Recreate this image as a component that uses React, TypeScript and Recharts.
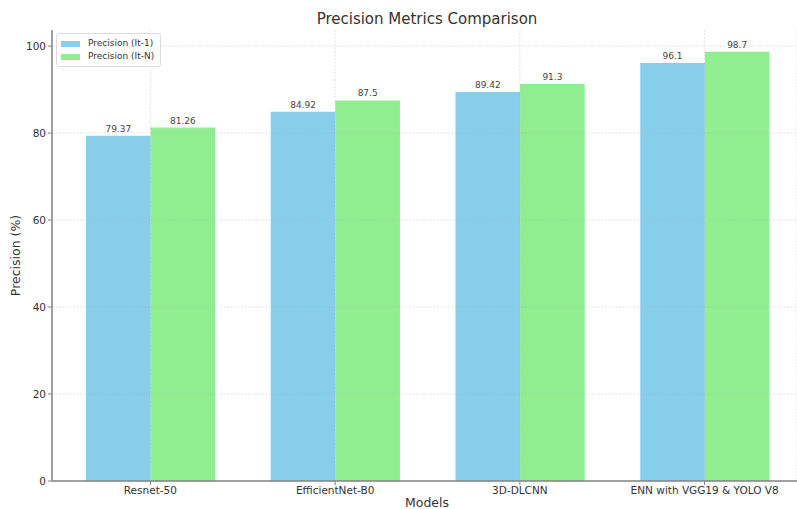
import React from "react";
import {
  BarChart, Bar, XAxis, YAxis, CartesianGrid, LabelList,
} from "recharts";

const models = ["Resnet-50", "EfficientNet-B0", "3D-DLCNN", "ENN with VGG19 & YOLO V8"];
const precisionIt1 = [79.37, 84.92, 89.42, 96.1];
const precisionItN = [81.26, 87.5, 91.3, 98.7];
const yTicks = [0, 20, 40, 60, 80, 100];

const data = models.map((model, i) => ({
  model,
  it1: precisionIt1[i],
  itN: precisionItN[i],
}));

const FONT = "DejaVu Sans, Verdana, sans-serif";
const TEXT = "#333";
const SPINE = "#7f7f7f";

const SERIES = [
  { key: "it1", name: "Precision (It-1)", color: "#87CEEB" },
  { key: "itN", name: "Precision (It-N)", color: "#90EE90" },
];

// legend drawn as an overlay so it doesn't shrink the plot area
function LegendBox() {
  return (
    <div
      style={{
        position: "absolute", left: 56, top: 33,
        background: "rgba(255,255,255,0.85)",
        border: "1px solid #dcdcdc",
        borderRadius: 3,
        padding: "3px 6px 3px 4px",
        fontFamily: FONT,
        fontSize: 9,
        color: TEXT,
        lineHeight: "13px",
      }}
    >
      {SERIES.map((s) => (
        <div key={s.key} style={{ display: "flex", alignItems: "center" }}>
          <span style={{ display: "inline-block", width: 19, height: 6, background: s.color, marginRight: 8 }} />
          {s.name}
        </div>
      ))}
    </div>
  );
}

export default function App() {
  return (
    <div style={{ position: "absolute", left: 0, top: 0, width: 797, height: 509, background: "#fff", fontFamily: FONT }}>
      <div
        style={{
          position: "absolute", left: 0, width: 854, top: 9, textAlign: "center",
          fontSize: 15, color: TEXT, lineHeight: "20px",
        }}
      >
        Precision Metrics Comparison
      </div>
      <BarChart
        width={797}
        height={509}
        data={data}
        margin={{ top: 30, right: 0, bottom: 0, left: 0 }}
        barGap={0}
        barSize={64.6}
      >
        <XAxis
          dataKey="model"
          height={28}
          padding={{ left: 6, right: 0 }}
          tick={{ fontSize: 10.5, fill: TEXT, fontFamily: FONT }}
          tickLine={{ stroke: SPINE }}
          tickSize={4}
          axisLine={{ stroke: SPINE, strokeWidth: 1.5 }}
          interval={0}
          label={({ viewBox }: any) => (
            <text x={427} y={viewBox.y + 26} textAnchor="middle" fontSize={12.5} fill={TEXT} fontFamily={FONT}>
              Models
            </text>
          )}
        />
        <YAxis
          width={52}
          domain={[0, 103.7]}
          ticks={yTicks}
          tick={{ fontSize: 10.5, fill: TEXT, fontFamily: FONT }}
          tickLine={{ stroke: SPINE }}
          tickSize={4}
          axisLine={{ stroke: SPINE, strokeWidth: 1.5 }}
          label={({ viewBox }: any) => {
            const cy = viewBox.y + viewBox.height / 2;
            return (
              <text x={20} y={cy} transform={`rotate(-90 20 ${cy})`} textAnchor="middle" fontSize={12.5} fill={TEXT} fontFamily={FONT}>
                Precision (%)
              </text>
            );
          }}
        />
        {SERIES.map((s) => (
          <Bar key={s.key} dataKey={s.key} name={s.name} fill={s.color} isAnimationActive={false}>
            <LabelList dataKey={s.key} position="top" offset={4} fontSize={9} fill="#444" fontFamily={FONT} />
          </Bar>
        ))}
        {/* grid sits on top of the bars, faint and finely dashed */}
        <CartesianGrid
          stroke="#b0b0b0"
          strokeOpacity={0.45}
          strokeDasharray="2 1.5"
          strokeWidth={0.8}
          horizontalValues={yTicks}
          zIndex={600}
        />
      </BarChart>
      <LegendBox />
    </div>
  );
}
